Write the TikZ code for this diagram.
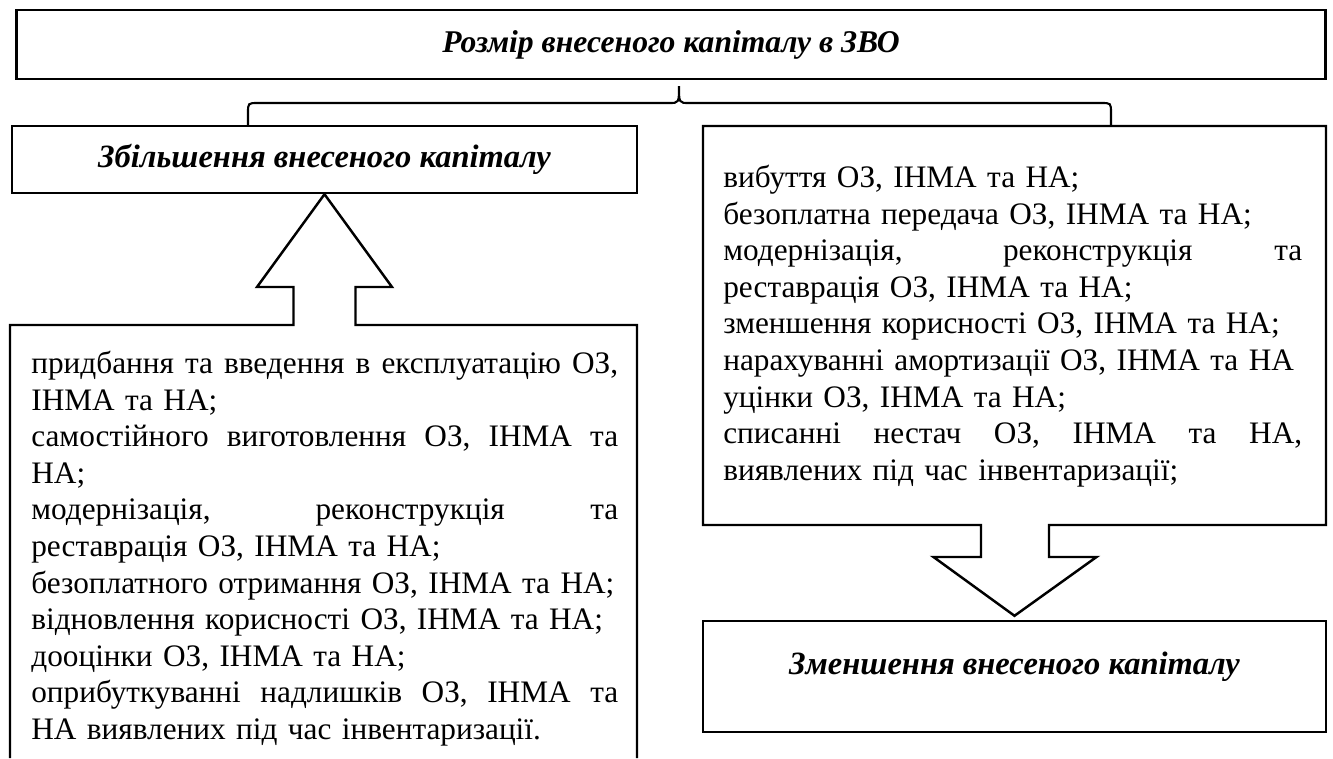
\documentclass[tikz,border=0pt]{standalone}
\usepackage{fontspec}
\setmainfont{Liberation Serif}
\usetikzlibrary{calc}
\newlength{\itemw}
\newcommand{\jline}[1]{\leavevmode\hbox to \itemw{\spaceskip=0.25em plus 1fill minus 0.05em\relax #1}}

\begin{document}
\begin{tikzpicture}[x=0.02cm, y=-0.02cm,
    headbox/.style={draw, line width=1.4pt, inner sep=0pt,
        font=\fontsize{18.5pt}{21pt}\selectfont\bfseries\itshape},
    headtext/.style={inner sep=0pt, font=\fontsize{18.5pt}{21pt}\selectfont\bfseries\itshape},
    itemtext/.style={inner sep=0pt, align=left, anchor=north west, text width=#1,
        execute at begin node={\setlength{\itemw}{#1}},
        font=\fontsize{17.8pt}{20.8pt}\selectfont},
    boxline/.style={line width=1.4pt, line join=miter}]
\useasboundingbox (0,0) rectangle (1333,758);

% headings
\node[headbox, line width=1.6pt, minimum width=26.2cm, minimum height=1.38cm,
    font=\fontsize{18pt}{21pt}\selectfont\bfseries\itshape] (total) at (671,44.5) {Розмір внесеного капіталу в ЗВО};
\node[headbox, minimum width=12.5cm, minimum height=1.34cm] (incbox) at (324.5,159.5) {Збільшення внесеного капіталу};
\node[headbox, minimum width=12.46cm, minimum height=2.22cm] (decbox) at (1014.5,676.5) {};
\node[headtext] (dectitle) at (1014.5,667) {Зменшення внесеного капіталу};

% brace
\coordinate (braceL) at (248,126);
\coordinate (braceR) at (1111,126);
\coordinate (braceTip) at (679,86);
\draw[line width=1.2pt] (braceL) -- (248,113) .. controls (248,103) .. (258,103) -- (669,103)
    .. controls (679,103) .. (braceTip) .. controls (679,103) .. (689,103) -- (1101,103)
    .. controls (1111,103) .. (1111,113) -- (braceR);

% increase items with arrow up
\draw[boxline] (10,758) -- (10,325) -- (293.5,325) -- (293.5,287) -- (257,287) -- (incbox.south)
    -- (392,287) -- (355.5,287) -- (355.5,325) -- (637,325) -- (637,758);
\node[itemtext=11.74cm] (incitems) at (31,351) {%
\jline{придбання та введення в експлуатацію ОЗ,}\\
ІНМА та НА;\\
\jline{самостійного виготовлення ОЗ, ІНМА та}\\
НА;\\
\jline{модернізація, реконструкція та}\\
реставрація ОЗ, ІНМА та НА;\\
\mbox{безоплатного отримання ОЗ, ІНМА та НА;}\\
\mbox{відновлення корисності ОЗ, ІНМА та НА;}\\
дооцінки ОЗ, ІНМА та НА;\\
\jline{оприбуткуванні надлишків ОЗ, ІНМА та}\\
НА виявлених під час інвентаризації.};

% decrease items with arrow down
\draw[boxline] (981,525) -- (703,525) -- (703,126) -- (1326,126) -- (1326,525) -- (1049,525)
    -- (1049,557) -- (1096.5,557) -- ($(decbox.north)+(0,-4)$) -- (933.5,557) -- (981,557) -- cycle;
\node[itemtext=11.58cm] (decitems) at (723,165) {%
вибуття ОЗ, ІНМА та НА;\\
безоплатна передача ОЗ, ІНМА та НА;\\
\jline{модернізація, реконструкція та}\\
реставрація ОЗ, ІНМА та НА;\\
зменшення корисності ОЗ, ІНМА та НА;\\
нарахуванні амортизації ОЗ, ІНМА та НА\\
уцінки ОЗ, ІНМА та НА;\\
\jline{списанні нестач ОЗ, ІНМА та НА,}\\
виявлених під час інвентаризації;};

\end{tikzpicture}
\end{document}
